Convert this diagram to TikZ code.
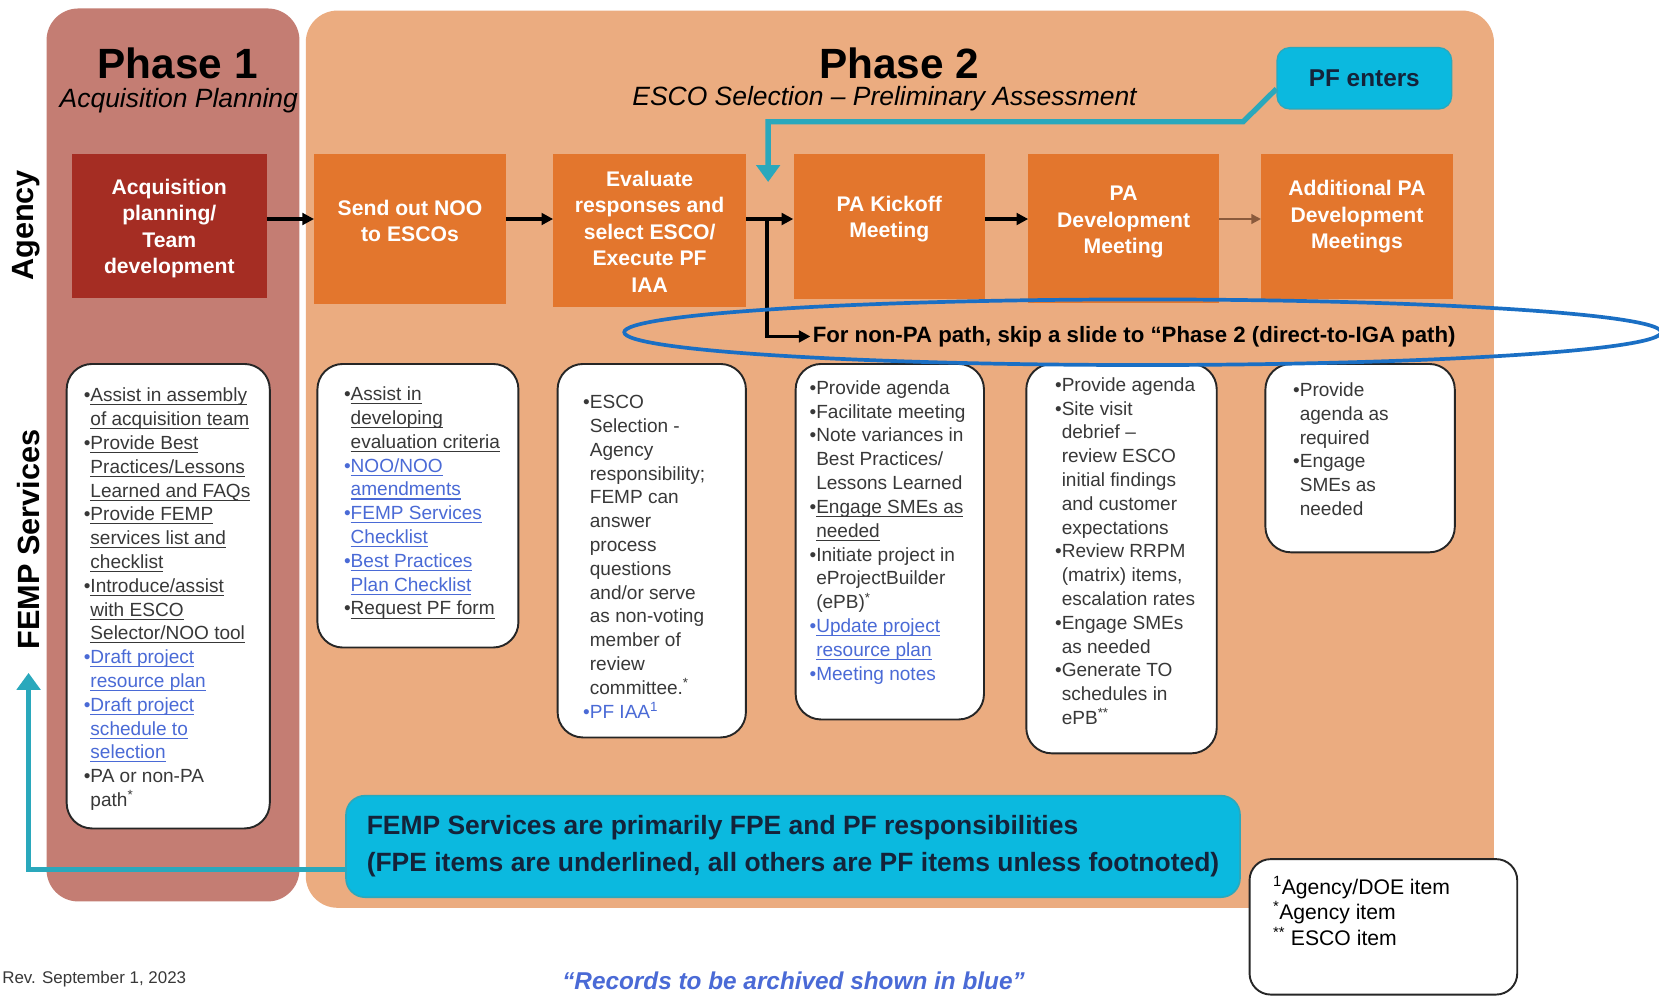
\documentclass[tikz,border=0pt]{standalone}
\usepackage{fontspec}
\setmainfont{Liberation Sans}
\usetikzlibrary{arrows.meta}

\definecolor{phaseone}{HTML}{C47D73}
\definecolor{phasetwo}{HTML}{EBAC80}
\definecolor{acqred}{HTML}{A52D23}
\definecolor{steporange}{HTML}{E3762D}
\definecolor{pfcyan}{HTML}{0BB9DF}
\definecolor{pfteal}{HTML}{2AA8BC}
\definecolor{recblue}{HTML}{4A6AD6}
\definecolor{ringblue}{HTML}{1A6FC4}
\definecolor{bodygray}{HTML}{383838}
\definecolor{notenavy}{HTML}{14233A}
\definecolor{thinbrown}{HTML}{8A5A3C}

\newcommand{\bul}{\textbullet}
\newcommand{\nxt}{\hphantom{\textbullet}}
\newcommand{\fpe}[1]{\leavevmode\setbox0=\hbox{#1}\rlap{\vrule height -2.4pt depth 3.4pt width \wd0}\box0}
\newcommand{\rec}[1]{\textcolor{recblue}{#1}}

\begin{document}
\begin{tikzpicture}[x=1pt,y=-1pt,
	stepbox/.style={fill=steporange, inner sep=0pt},
	steptext/.style={text=white, align=center, inner sep=0pt, font=\bfseries\fontsize{20}{25}\selectfont},
	svcbox/.style={draw=black!85, line width=1.8pt, fill=white, rounded corners=24pt},
	svctext/.style={anchor=north west, align=left, inner sep=0pt, text=bodygray, font=\fontsize{18}{22.5}\selectfont},
	flowarrow/.style={line width=3pt, -{Triangle[length=11pt,width=11pt]}},
	pfline/.style={draw=pfteal, line width=5pt, -{Triangle[length=16pt,width=22pt]}},
	sidelabel/.style={rotate=90, inner sep=0pt, font=\bfseries\fontsize{29}{34}\selectfont}]
			%%%%% BACKGROUND %%%%%
			
			\useasboundingbox (0, 0) rectangle (1568, 942.3);
			\fill[white] (0, 0) rectangle (1568, 942.3);
			
			\fill[phaseone, rounded corners=30pt] (44, 8) rectangle (283, 852);
			\fill[phasetwo, rounded corners=30pt] (289, 10) rectangle (1412, 858);
			
			\node[sidelabel] (agency-lbl) at (25, 213) {Agency};
			\node[sidelabel] (fempsvc-lbl) at (27, 510) {FEMP Services};
			
			%%%%% TITLES %%%%%
			
			\node[inner sep=0pt, font=\bfseries\fontsize{40}{48}\selectfont] (ph1) at (168, 60) {Phase 1};
			\node[inner sep=0pt, font=\itshape\fontsize{25}{30}\selectfont] (ph1-sub) at (169, 95) {Acquisition Planning};
			\node[inner sep=0pt, font=\bfseries\fontsize{40}{48}\selectfont] (ph2) at (850, 60) {Phase 2};
			\node[inner sep=0pt, font=\itshape\fontsize{25}{30}\selectfont] (ph2-sub) at (836, 93) {ESCO Selection – Preliminary Assessment};
			
			%%%%% AGENCY ROW %%%%%
			
			\coordinate (flowrow) at (0, 207);
			
			\node[stepbox, fill=acqred, minimum width=184pt, minimum height=136pt] (acq) at (160, 214) {};
			\node[steptext] (acq-t) at (160, 216) {Acquisition\\planning/\\Team\\development};
			
			\node[stepbox, minimum width=181pt, minimum height=141pt] (noo) at (387.5, 216.5) {};
			\node[steptext] (noo-t) at (387.5, 209) {Send out NOO\\to ESCOs};
			
			\node[stepbox, minimum width=182pt, minimum height=144pt] (evalsel) at (614, 218) {};
			\node[steptext] (evalsel-t) at (614, 219) {Evaluate\\responses and\\select ESCO/\\Execute PF\\IAA};
			
			\node[stepbox, minimum width=181pt, minimum height=137pt] (kickoff) at (840.5, 214.5) {};
			\node[steptext] (kickoff-t) at (840.5, 207) {PA Kickoff\\Meeting};
			
			\node[stepbox, minimum width=180pt, minimum height=140pt] (padev) at (1062, 216) {};
			\node[steptext] (padev-t) at (1062, 210) {PA\\Development\\Meeting};
			
			\node[stepbox, minimum width=181pt, minimum height=137pt] (addpa) at (1282.5, 214.5) {};
			\node[steptext] (addpa-t) at (1282.5, 205) {Additional PA\\Development\\Meetings};
			
			\draw[flowarrow] (acq.east |- flowrow) -- (noo.west |- flowrow);
			\draw[flowarrow] (noo.east |- flowrow) -- (evalsel.west |- flowrow);
			\draw[flowarrow] (evalsel.east |- flowrow) -- (kickoff.west |- flowrow);
			\draw[flowarrow] (kickoff.east |- flowrow) -- (padev.west |- flowrow);
			\draw[thinbrown, line width=2pt, -{Triangle[length=9pt,width=9pt]}] (padev.east |- flowrow) -- (addpa.west |- flowrow);
			
			\node[anchor=west, inner sep=2pt, font=\bfseries\fontsize{21}{25}\selectfont] (nonpa) at (766, 318) {For non-PA path, skip a slide to “Phase 2 (direct-to-IGA path)};
			\coordinate (split) at (725, 207);
			\draw[flowarrow] (split) |- (nonpa.west);
			
			%%%%% PF ENTERS %%%%%
			
			\node[fill=pfcyan, draw=pfteal, line width=1.2pt, rounded corners=12pt, minimum width=165pt, minimum height=58pt, text=notenavy, font=\bfseries\fontsize{23}{27}\selectfont] (pfenter) at (1289.5, 74) {PF enters};
			\coordinate (pfbend) at (1175, 115);
			\coordinate (pfdrop) at (726, 172);
			\draw[pfline] ([yshift=-10pt]pfenter.west) -- (pfbend) -- (pfdrop |- pfbend) -- (pfdrop);
			
			%%%%% FEMP SERVICES ROW %%%%%
			
			\draw[svcbox] (63, 344) rectangle (255, 783);
			\node[svctext] (svc-acq) at (79, 366.5) {\bul\fpe{Assist in assembly}\\
				\nxt\fpe{of acquisition team}\\
				\bul\fpe{Provide Best}\\
				\nxt\fpe{Practices/Lessons}\\
				\nxt\fpe{Learned and FAQs}\\
				\bul\fpe{Provide FEMP}\\
				\nxt\fpe{services list and}\\
				\nxt\fpe{checklist}\\
				\bul\fpe{Introduce/assist}\\
				\nxt\fpe{with ESCO}\\
				\nxt\fpe{Selector/NOO tool}\\
				\rec{\bul\fpe{Draft project}}\\
				\rec{\nxt\fpe{resource plan}}\\
				\rec{\bul\fpe{Draft project}}\\
				\rec{\nxt\fpe{schedule to}}\\
				\rec{\nxt\fpe{selection}}\\
				\bul PA or non-PA\\
				\nxt path\textsuperscript{*}};
			
			\draw[svcbox] (300, 344) rectangle (490, 612);
			\node[svctext] (svc-noo) at (325, 365.5) {\bul\fpe{Assist in}\\
				\nxt\fpe{developing}\\
				\nxt\fpe{evaluation criteria}\\
				\rec{\bul\fpe{NOO/NOO}}\\
				\rec{\nxt\fpe{amendments}}\\
				\rec{\bul\fpe{FEMP Services}}\\
				\rec{\nxt\fpe{Checklist}}\\
				\rec{\bul\fpe{Best Practices}}\\
				\rec{\nxt\fpe{Plan Checklist}}\\
				\bul\fpe{Request PF form}};
			
			\draw[svcbox] (527, 344) rectangle (705, 697);
			\node[svctext] (svc-eval) at (551, 373.5) {\bul ESCO\\
				\nxt Selection -\\
				\nxt Agency\\
				\nxt responsibility;\\
				\nxt FEMP can\\
				\nxt answer\\
				\nxt process\\
				\nxt questions\\
				\nxt and/or serve\\
				\nxt as non-voting\\
				\nxt member of\\
				\nxt review\\
				\nxt committee.\textsuperscript{*}\\
				\rec{\bul PF IAA\textsuperscript{1}}};
			
			\draw[svcbox] (752, 344) rectangle (930, 680);
			\node[svctext] (svc-kick) at (765, 359.5) {\bul Provide agenda\\
				\bul Facilitate meeting\\
				\bul Note variances in\\
				\nxt Best Practices/\\
				\nxt Lessons Learned\\
				\bul\fpe{Engage SMEs as}\\
				\nxt\fpe{needed}\\
				\bul Initiate project in\\
				\nxt eProjectBuilder\\
				\nxt (ePB)\textsuperscript{*}\\
				\rec{\bul\fpe{Update project}}\\
				\rec{\nxt\fpe{resource plan}}\\
				\rec{\bul Meeting notes}};
			
			\draw[svcbox] (970, 344) rectangle (1150, 712);
			\node[svctext] (svc-dev) at (997, 356.5) {\bul Provide agenda\\
				\bul Site visit\\
				\nxt debrief –\\
				\nxt review ESCO\\
				\nxt initial findings\\
				\nxt and customer\\
				\nxt expectations\\
				\bul Review RRPM\\
				\nxt (matrix) items,\\
				\nxt escalation rates\\
				\bul Engage SMEs\\
				\nxt as needed\\
				\bul Generate TO\\
				\nxt schedules in\\
				\nxt ePB\textsuperscript{**}};
			
			\draw[svcbox] (1196, 344) rectangle (1375, 522);
			\node[svctext] (svc-add) at (1222, 361.5) {\bul Provide\\
				\nxt agenda as\\
				\nxt required\\
				\bul Engage\\
				\nxt SMEs as\\
				\nxt needed};
			
			%%%%% NOTES %%%%%
			
			\node[fill=pfcyan, draw=pfteal, line width=1.5pt, rounded corners=18pt, minimum width=845pt, minimum height=96pt, align=left, text=notenavy, font=\bfseries\fontsize{25}{35}\selectfont] (femp-note) at (749.5, 800) {FEMP Services are primarily FPE and PF responsibilities\\(FPE items are underlined, all others are PF items unless footnoted)};
			\coordinate (fempup) at (27, 636);
			\draw[pfline] ([yshift=-22pt]femp-note.west) -| (fempup);
			
			\draw[svcbox, rounded corners=20pt] (1181, 812) rectangle (1434, 940);
			\node[svctext, font=\fontsize{20}{24}\selectfont, text=black] (footnotes) at (1203, 828) {\textsuperscript{1}Agency/DOE item\\
				\textsuperscript{*}Agency item\\
				\textsuperscript{**} ESCO item};
			
			\draw[ringblue, line width=3.5pt] (1080, 314) ellipse [x radius=490pt, y radius=31pt];
			
			\node[anchor=west, inner sep=0pt, text=bodygray, font=\fontsize{16}{19}\selectfont] (rev) at (2, 925) {Rev. September 1, 2023};
			\node[inner sep=0pt, text=recblue, font=\bfseries\itshape\fontsize{23}{27}\selectfont] (records) at (750, 927) {“Records to be archived shown in blue”};
			
			%%%%% END %%%%%
\end{tikzpicture}
\end{document}
